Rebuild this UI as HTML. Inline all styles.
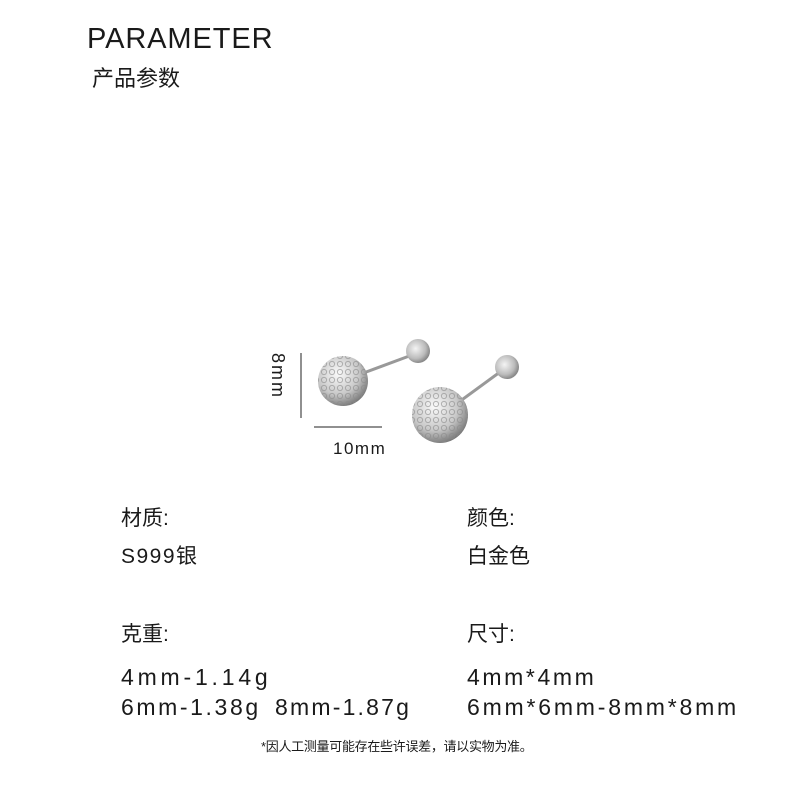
<!DOCTYPE html>
<html><head><meta charset="utf-8"><style>
body{margin:0;width:790px;height:793px;background:#fff;position:relative;overflow:hidden;font-family:"Liberation Sans","Noto Sans CJK SC",sans-serif;color:#1a1a1a}
.t{position:absolute;white-space:nowrap;line-height:1}
.d{font-size:23px;letter-spacing:2.6px}
</style></head><body>
<div class="t" style="left:87px;top:25px;font-size:29px;letter-spacing:0.9px">PARAMETER</div>
<div class="t" style="left:92px;top:68px;font-size:22px">产品参数</div>

<svg style="position:absolute;left:0;top:0" width="790" height="793">
<defs>
<radialGradient id="g1" cx="0.4" cy="0.35" r="0.7"><stop offset="0" stop-color="#fafafa"/><stop offset="0.6" stop-color="#c8c8c8"/><stop offset="1" stop-color="#707070"/></radialGradient>
<radialGradient id="g2" cx="0.4" cy="0.4" r="0.6"><stop offset="0" stop-color="#f4f4f4"/><stop offset="0.7" stop-color="#bbb"/><stop offset="1" stop-color="#8a8a8a"/></radialGradient>
<pattern id="p" width="8" height="8" patternUnits="userSpaceOnUse"><circle cx="4" cy="4" r="2.6" fill="none" stroke="#8a8a8a" stroke-width="1"/></pattern>
</defs>
<line x1="301" y1="353" x2="301" y2="418" stroke="#222" stroke-width="1"/>
<line x1="314" y1="427" x2="382" y2="427" stroke="#222" stroke-width="1"/>
<line x1="350" y1="378" x2="412" y2="355" stroke="#999" stroke-width="3"/>
<circle cx="418" cy="351" r="12" fill="url(#g2)"/>
<circle cx="343" cy="381" r="25" fill="url(#g1)"/>
<circle cx="343" cy="381" r="25" fill="url(#p)" opacity="0.6"/>
<line x1="448" y1="410" x2="500" y2="372" stroke="#999" stroke-width="3"/>
<circle cx="507" cy="367" r="12" fill="url(#g2)"/>
<circle cx="440" cy="415" r="28" fill="url(#g1)"/>
<circle cx="440" cy="415" r="28" fill="url(#p)" opacity="0.6"/>
</svg>
<div class="t" style="left:250px;top:367px;font-size:18px;letter-spacing:2px;transform:rotate(90deg);transform-origin:center;width:56px;text-align:center">8mm</div>
<div class="t" style="left:333px;top:440px;font-size:17px;letter-spacing:1.5px">10mm</div>

<div class="t" style="left:121px;top:508px;font-size:21px">材质:</div>
<div class="t" style="left:121px;top:546px;font-size:21px;letter-spacing:1.5px">S999银</div>
<div class="t" style="left:467px;top:508px;font-size:21px">颜色:</div>
<div class="t" style="left:467px;top:546px;font-size:21px">白金色</div>
<div class="t" style="left:121px;top:624px;font-size:21px">克重:</div>
<div class="t" style="left:467px;top:624px;font-size:21px">尺寸:</div>
<div class="t d" style="left:121px;top:666px;letter-spacing:3.8px">4mm-1.14g</div>
<div class="t d" style="left:121px;top:696px">6mm-1.38g</div>
<div class="t d" style="left:275px;top:696px;letter-spacing:2.2px">8mm-1.87g</div>
<div class="t d" style="left:467px;top:666px">4mm*4mm</div>
<div class="t d" style="left:467px;top:696px;letter-spacing:2.8px">6mm*6mm-8mm*8mm</div>
<div class="t" style="left:261px;top:740px;font-size:13px;letter-spacing:-0.3px">*因人工测量可能存在些许误差，请以实物为准。</div>
</body></html>
